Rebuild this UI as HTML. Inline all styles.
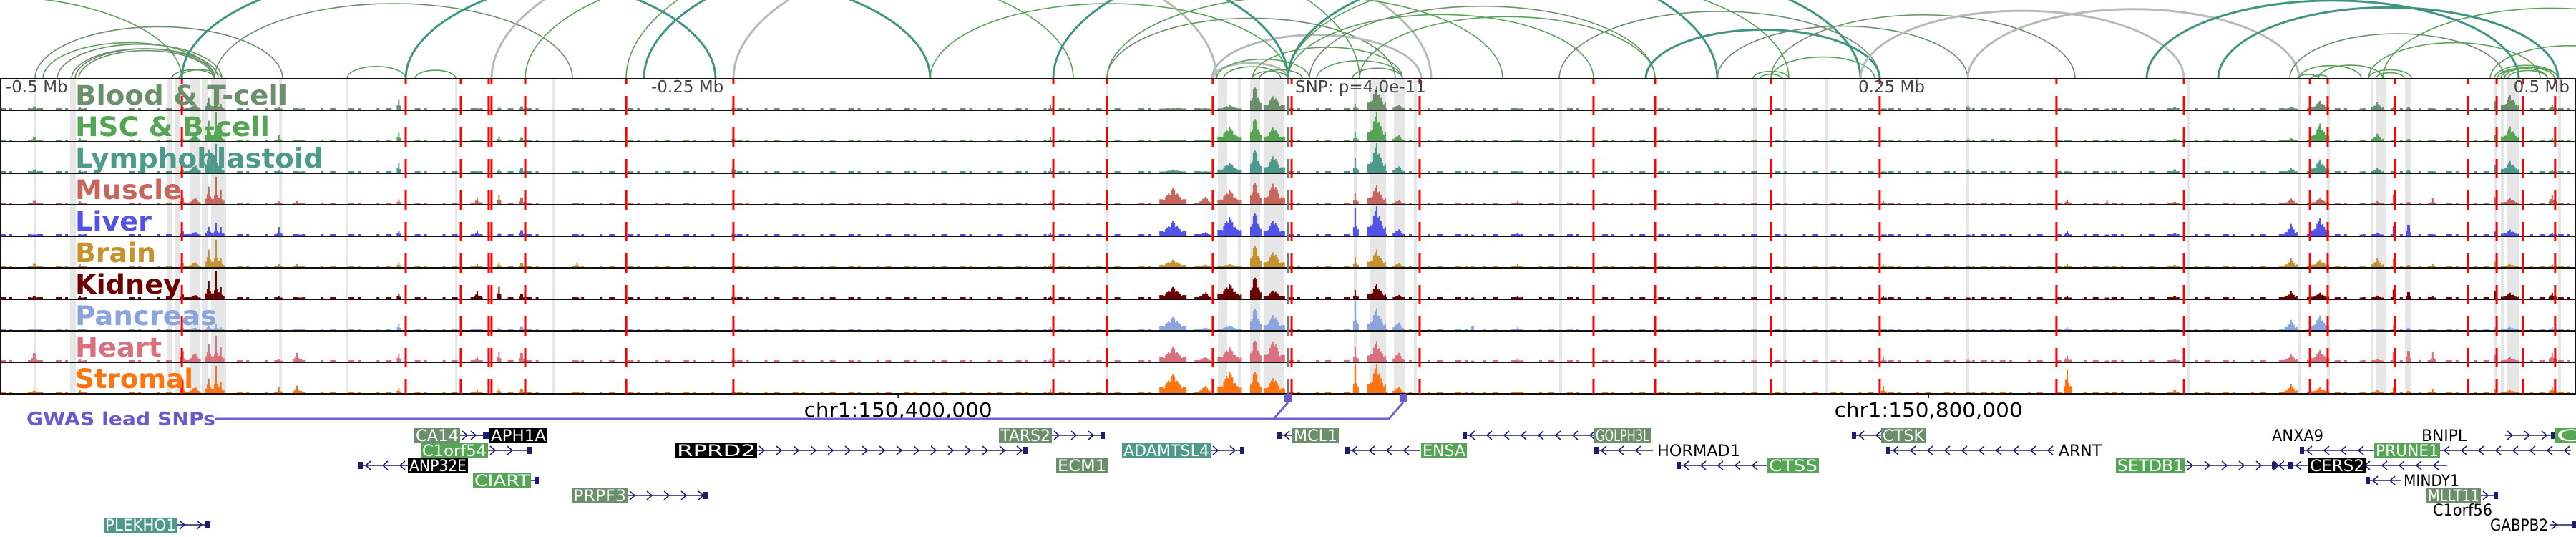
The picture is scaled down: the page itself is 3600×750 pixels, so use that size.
<!DOCTYPE html>
<html><head><meta charset="utf-8"><style>
html,body{margin:0;padding:0;background:#fff;}
svg{display:block;}
</style></head><body>
<svg id="chart" width="3600" height="750" viewBox="0 0 3600 750" xmlns="http://www.w3.org/2000/svg">
  <defs><clipPath id="arcclip"><rect x="0" y="0" width="3600" height="111"/></clipPath></defs>
  <g id="arcs" clip-path="url(#arcclip)"></g>
  <g id="bands"></g>
  <g id="signals"></g>
  <g id="frames"></g>
  <g id="redlines"></g>
  <g id="labels"></g>
  <g id="axis"></g>
  <g id="gwas"></g>
  <g id="genes"></g>
</svg>
<script>
const NS = "http://www.w3.org/2000/svg";
// ---- data ----
const windowStartKb = 150051.35;
const pxPerKb = 3.6;
const trackNames = ["Blood & T-cell","HSC & B-cell","Lymphoblastoid","Muscle","Liver","Brain","Kidney","Pancreas","Heart","Stromal"];
const trackColors = ["#6a8f6a","#55a555","#4c9a8a","#c6665c","#5252e6","#c6922e","#6b0000","#8aa4e0","#d8707e","#ff7410"];
const labelWidths = [297,272,347,149,107,113,148,198,121,165];
// peak site positions (kb from window start) and widths (kb)
const sitePos = [13.3,31.1,70.8,75.6,81.1,83.9,85.8,108.3,115.3,154.7,185.3,193.6,202.5,223.9,284.7,407.8,455.3,467.8,477.2,487.2,494.4,526.1,534.4,542.8,571.7,589.2,731.1,763.9,773.6,802.5,817.8,844.2,889.4,900.6,916.7,922.8,929.4,935.0,944.4,968.9,974.4,990.8];
const siteWidth = [2.2,1.7,2.2,4.2,2.8,1.7,1.7,1.7,2.8,1.4,2.8,1.4,2.2,1.4,1.4,1.7,10.5,4.4,9.2,3.9,7.8,1.7,7.2,4.4,1.1,2.8,1.7,1.4,0.8,2.8,1.4,2.2,5,7.2,1.4,5,1.1,2.2,1.7,1.1,7.2,2.8];
const bloodVals = [.15,.1,.1,.2,.4,.5,.2,.1,.05,.45,.05,.1,.15,.05,.15,.15,.05,.05,.15,1,.5,.2,.8,.2,.02,.05,.05,.2,.1,.05,.02,.1,.1,.3,.05,.25,.2,.1,.05,.6,.5,.15];
const hscVals = [.2,.1,.1,.25,.7,1,.3,.2,.05,.35,.05,.2,.15,.05,.2,.15,.05,.05,.5,1,.5,.3,1,.25,.02,.05,.05,.1,.15,.05,.02,.1,.1,.6,.05,.25,.1,.1,.05,.45,.5,.1];
const lymphoVals = [.15,.1,.15,.3,.8,1,.3,.1,.05,.4,.05,.15,.2,.05,.35,.15,.1,.05,.35,1,.6,.5,1,.25,.02,.05,.05,.15,.1,.05,.02,.15,.15,.45,.05,.15,.1,.1,.05,.55,.4,.1];
const muscleVals = [.15,.1,.3,.25,.6,.95,.5,.1,.1,.2,.2,.4,.3,.05,.1,.1,.55,.3,.5,.95,.75,.4,.65,.15,.02,.1,.1,.05,.05,.15,.15,.1,.2,.2,.05,.1,.7,.1,.2,.5,.2,.3];
const liverVals = [.05,.05,.2,.15,.3,.45,.3,.3,.05,.2,.15,.1,.25,.05,.15,.1,.5,.15,.65,1,.55,.95,1,.25,.02,.1,.05,.05,.1,.15,.02,.1,.4,.6,.05,.1,.7,.5,.05,.3,.2,.1];
const brainVals = [.15,.1,.2,.2,.6,.95,.3,.1,.1,.2,.1,.2,.2,.2,.1,.1,.25,.1,.1,.95,.55,.35,.6,.15,.02,.1,.1,.05,.05,.1,.02,.1,.3,.25,.05,.3,.6,.1,.1,.4,.1,.1];
const kidneyVals = [.1,.1,.2,.15,.6,.95,.4,.1,.05,.2,.25,.5,.2,.05,.15,.1,.4,.25,.5,.95,.3,.3,.5,.15,.02,.1,.1,.05,.05,.1,.02,.1,.25,.2,.05,.1,.65,.3,.1,.55,.2,.2];
const pancreasVals = [.05,.05,.1,.1,.15,.2,.1,.05,.05,.25,.05,.1,.15,.05,.15,.1,.45,.1,.15,.95,.55,1,.75,.3,.3,.1,.05,.05,.1,.1,.02,.05,.35,.5,.05,.05,.35,.1,.05,.2,.1,.1];
const heartVals = [.4,.1,.5,.35,.6,.9,.5,.1,.3,.35,.15,.4,.4,.05,.15,.1,.5,.2,.5,.95,.75,.5,.7,.35,.05,.1,.15,.1,.1,.2,.05,.1,.25,.4,.05,.1,.7,.5,.35,.5,.15,.3];
const stromalVals = [.1,.1,.6,.25,.5,.95,.4,.2,.25,.2,.1,.2,.2,.05,.15,.15,.65,.3,.75,.95,.55,1,1,.25,.02,.05,.25,.05,.05,.8,.05,.15,.3,.2,.05,.1,.4,.1,.15,.3,.1,.2];
const trackVals = [bloodVals,hscVals,lymphoVals,muscleVals,liverVals,brainVals,kidneyVals,pancreasVals,heartVals,stromalVals];
const bgStart = [0,50,92,161,222,286,411,442,500,622,689,733];
const bgEnd   = [36,72,156,211,278,406,433,469,617,683,728,1000];
const markerKb = [70.6,157.5,178.9,189.7,190.8,203.9,243.1,284.7,408.9,429.7,470.8,501.4,551.1,618.6,642.5,687.5,729.7,798.3,847.8,896.7,903.6,929.7,958.1,969.2,979.4,991.9];
const bandStart = [47,98,234,245,265,282,295,390,484,636,772,1546,1702,1730,1747,1766,1892,1915,1948,1976,2179,2450,2492,2551,2748,3056,3211,3252,3313,3320,3361,3486,3495,3503,3575];
const bandEnd   = [51,106,240,252,280,291,316,394,487,639,775,1549,1715,1735,1761,1794,1897,1937,1963,1980,2183,2456,2496,2555,2752,3060,3215,3256,3317,3334,3369,3490,3499,3521,3579];
const arcFrom = [-300,49,60,80,100,105,110,240,250,254,300,485,567,580,687,734,875,1025,1472,1547,1547,1695,1700,1710,1750,1760,1694,1750,1800,1800,1800,1830,1840,1890,900,1300,2179,1900,2450,2460,2475,2475,2300,2400,2600,2750,3211,3230,3213,3240,3310,3320,3310,3330,3486,3490,3500,3480,3000,3100,3200,3495,3505];
const arcTo   = [254,395,300,310,300,305,298,300,310,1000,800,567,1300,637,1700,1500,1900,2000,2400,2100,1950,1800,1830,1790,1800,1820,1986,1960,2500,2227,2600,2313,1960,1960,1800,1800,2627,2313,2500,2490,2620,2900,2627,2750,3052,3213,3240,3254,3300,3330,3370,3360,3550,3800,3575,3560,3575,3700,3520,3575,3500,3570,3560];
const arcKind = [0,2,0,2,2,2,2,2,0,1,2,0,1,0,3,0,0,3,1,0,2,3,0,0,0,2,3,0,0,0,1,2,0,2,1,0,2,0,0,0,0,2,1,2,3,3,0,0,0,0,0,0,0,0,0,0,0,0,1,1,2,0,0];
const arcColors = ["#5aa05a","#3f9680","#6a8f6a","#b4bcb8"];
const arcWidths = [1.6,3,1.6,3];
const axisLabels = ["-0.5 Mb","-0.25 Mb","SNP: p=4.0e-11","0.25 Mb","0.5 Mb"];
const axisLabelX = [8,910,1810,2690,3591];
const axisAnchor = ["start","start","start","end","end"];
const chrTicks = ["chr1:150,400,000","chr1:150,800,000"];
const chrTickKb = [348.65,748.65];
const snpKb = [500.0,544.7];

// ---- helpers ----
const X = kb => kb * pxPerKb;
const TOP = 110, TH = 44;
function mk(tag, attrs, parent){ const e=document.createElementNS(NS,tag); for(const k in attrs) e.setAttribute(k,attrs[k]); parent.appendChild(e); return e; }

// arcs
const arcs = document.getElementById('arcs');
for(let i=0;i<arcFrom.length;i++){
  const a=Math.min(arcFrom[i],arcTo[i]), b=Math.max(arcFrom[i],arcTo[i]);
  const rx=(b-a)/2, ry=rx*0.42;
  const p=mk('path',{d:`M${a},${TOP} A${rx},${ry} 0 0 1 ${b},${TOP}`,fill:'none',stroke:arcColors[arcKind[i]],'stroke-width':arcWidths[arcKind[i]]},arcs);
  
  
}
// bands
const bands=document.getElementById('bands');
for(let i=0;i<bandStart.length;i++){
  const r=mk('rect',{x:bandStart[i],y:TOP,width:bandEnd[i]-bandStart[i],height:TH*10,fill:'#e6e6e6'},bands);
  
  
}
// signals
const sig=document.getElementById('signals');
for(let t=0;t<10;t++){
  const g=mk('g',{fill:trackColors[t]},sig);
  
  
  const base=TOP+TH*(t+1)-1;
  let d='';
  for(let j=0;j<bgStart.length;j++){
    let k=0;
    for(let x=X(bgStart[j]); x<X(bgEnd[j]); x+=13){
      k++;
      if(k%3===0) continue;
      const w=(k%2)?8:4;
      d+=`M${x.toFixed(1)},${base}h${w}v-2h${-w}z`;
    }
  }
  const vals=trackVals[t];
  for(let s=0;s<sitePos.length;s++){
    const c=X(sitePos[s]), hw=Math.max(2,X(siteWidth[s])/2), h=vals[s]*41;
    let k=0;
    for(let x=c-hw; x<c+hw; x+=2){
      k++;
      const r=Math.min(1,Math.abs(x+1-c)/hw);
      let prof=Math.max(0.3,Math.pow(1-r,1.1));
      if(k%4===0) prof*=0.75;
      const hh=Math.max(1.5,h*prof);
      d+=`M${x.toFixed(1)},${base}h2v${(-hh).toFixed(1)}h-2z`;
    }
  }
  mk('path',{d:d},g);
}
// frames
const fr=document.getElementById('frames');
for(let t=0;t<=10;t++){
  const l=mk('line',{x1:0,x2:3600,y1:TOP+TH*t,y2:TOP+TH*t,stroke:'#111','stroke-width':2},fr);
  
  
}
mk('line',{x1:1,x2:1,y1:TOP,y2:TOP+TH*10,stroke:'#111','stroke-width':2},fr);
mk('line',{x1:3599,x2:3599,y1:TOP,y2:TOP+TH*10,stroke:'#111','stroke-width':2},fr);
// red markers
const rl=document.getElementById('redlines');
for(const k of markerKb){
  const l=mk('line',{x1:X(k),x2:X(k),y1:TOP,y2:TOP+TH*10,stroke:'#ff0000','stroke-width':3,'stroke-dasharray':'27 17','stroke-dashoffset':20},rl);
  
  
}
const gl=mk('line',{x1:1800,x2:1800,y1:TOP,y2:TOP+TH*10,stroke:'#777','stroke-width':3,'stroke-dasharray':'27 17','stroke-dashoffset':20},rl);


// labels
const lb=document.getElementById('labels');
for(let t=0;t<10;t++){
  const tx=mk('text',{x:105,y:TOP+TH*(t+1)-8,fill:trackColors[t],'font-family':'DejaVu Sans, Liberation Sans, sans-serif','font-weight':'bold','font-size':37,textLength:labelWidths[t],lengthAdjust:'spacingAndGlyphs'},lb);
  tx.textContent=trackNames[t];
  
  
}
// axis labels
const ax=document.getElementById('axis');
for(let i=0;i<axisLabels.length;i++){
  const tx=mk('text',{x:axisLabelX[i],y:129,fill:'#444','font-family':'DejaVu Sans, Liberation Sans, sans-serif','font-size':23,'text-anchor':axisAnchor[i]},ax);
  tx.textContent=axisLabels[i];
  
  
}
for(let i=0;i<chrTicks.length;i++){
  const x=X(chrTickKb[i]);
  mk('line',{x1:x,x2:x,y1:549,y2:556,stroke:'#000','stroke-width':1.5},ax);
  const tx=mk('text',{x:x,y:582,fill:'#000','font-family':'DejaVu Sans, Liberation Sans, sans-serif','font-size':28,'text-anchor':'middle',textLength:263,lengthAdjust:'spacingAndGlyphs'},ax);
  tx.textContent=chrTicks[i];
  
  
}
// gwas
const gw=document.getElementById('gwas');
const gt=mk('text',{x:37,y:594,fill:'#6a5acd','font-family':'DejaVu Sans, Liberation Sans, sans-serif','font-weight':'bold','font-size':26,textLength:264,lengthAdjust:'spacingAndGlyphs'},gw);
gt.textContent='GWAS lead SNPs';


const s1=X(snpKb[0]), s2=X(snpKb[1]);
mk('path',{d:`M301,585 H${s2-20} L${s2},562 M${s1-20},585 L${s1},562`,fill:'none',stroke:'#7060d0','stroke-width':3},gw);
for(const k of snpKb){
  const r=mk('rect',{x:X(k)-5,y:550,width:10,height:11,fill:'#6a5acd'},gw);
  
  
}
// genes
const rowY=[608,629,650,671,692,712,733];
const geneName=["CA14","APH1A","C1orf54","RPRD2","ANP32E","CIART","PRPF3","PLEKHO1","TARS2","ECM1","ADAMTSL4","MCL1","ENSA","GOLPH3L","HORMAD1","CTSK","CTSS","ARNT","SETDB1","ANXA9","CERS2","PRUNE1","BNIPL","C","MINDY1","MLLT11","C1orf56","GABPB2"];
const geneRow=[0,0,1,1,2,3,4,6,0,2,1,0,1,0,1,0,2,1,2,0,2,1,0,0,3,4,5,6];
const geneBoxX=[579,684,588,944,570,661,799,145,1396,1476,1568,1806,1986,2228,2314,2629,2470,2875,2957,3173,3226,3318,3382,3570,3357,3391,3398,3478];
const geneBoxW=[64,81,94,114,84,81,78,103,74,72,124,65,64,79,120,62,72,64,97,76,80,92,67,40,82,76,87,85];
const geneStyle=[1,0,2,0,0,2,1,3,1,1,3,1,2,1,4,1,2,4,2,4,0,2,4,2,4,1,4,4];
const lineFrom=[643,655,682,1058,501,742,877,248,1470,0,1692,1785,1880,2044,2228,2588,2343,2636,3054,0,3175,3214,3501,0,3306,3467,0,3563];
const lineTo=[680,684,742,1435,570,752,988,292,1543,0,1738,1805,1985,2228,2310,2629,2470,2870,3203,0,3420,3593,3570,0,3355,3490,0,3600];
const geneStrand=[1,1,1,1,-1,1,1,1,1,1,1,-1,-1,-1,-1,-1,-1,-1,1,1,-1,-1,1,1,-1,1,1,1];
const styleFill=["#000","#6a8f6a","#55a555","#4c9a8a","none"];
const gn=document.getElementById('genes');
for(let i=0;i<geneName.length;i++){
  const y=rowY[geneRow[i]];
  const g=mk('g',{},gn);
  
  
  if(lineTo[i]>lineFrom[i]){
    let d=`M${lineFrom[i]},${y}H${lineTo[i]}`;
    for(let x=lineFrom[i]+10;x<lineTo[i]-4;x+=24){
      d+= geneStrand[i]>0 ? `M${x-7},${y-6}L${x},${y}L${x-7},${y+6}` : `M${x+7},${y-6}L${x},${y}L${x+7},${y+6}`;
    }
    mk('path',{d:d,fill:'none',stroke:'#1c1c70','stroke-width':1.6},g);
    mk('rect',{x:geneStrand[i]>0?lineTo[i]-5:lineFrom[i],y:y-5,width:6,height:10,fill:'#1c1c70'},g);
  }
  const st=geneStyle[i];
  if(st!==4) mk('rect',{x:geneBoxX[i],y:y-10,width:geneBoxW[i],height:21,fill:styleFill[st]},g);
  const tx=mk('text',{x:geneBoxX[i]+2,y:y+8,fill:st===4?'#000':'#fff','font-family':'DejaVu Sans, Liberation Sans, sans-serif','font-size':22,textLength:geneBoxW[i]-4,lengthAdjust:'spacingAndGlyphs'},g);
  tx.textContent=geneName[i];
}
</script>
</body></html>
